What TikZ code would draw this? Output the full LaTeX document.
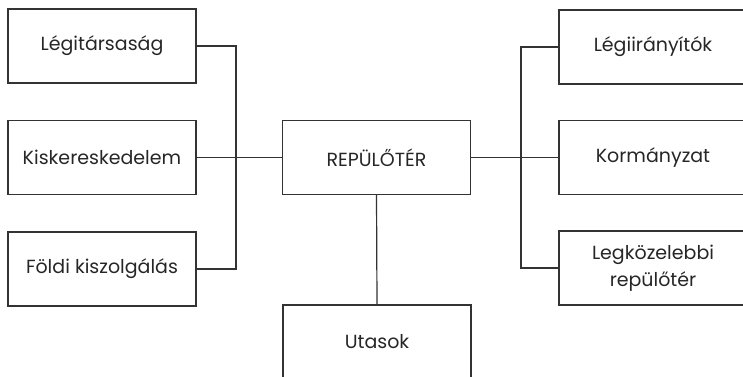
\documentclass[tikz,border=0pt]{standalone}
\usepackage{fontspec}
\setmainfont{Poppins}

\begin{document}
\begin{tikzpicture}[
x=1pt, y=-1pt,
entity/.style={rectangle, draw=black!80, line width=1.2pt, minimum width=188pt, minimum height=74pt, align=center, font=\fontsize{19}{27}\selectfont, text=black!85},
link/.style={draw=black!80, line width=1.2pt},
]
\useasboundingbox (0,0) rectangle (743,376);
% left column
\node[entity] (airline) at (102,46) {Légitársaság};
\node[entity] (retail) at (102,157.5) {Kiskereskedelem};
\node[entity] (ground) at (102,269) {Földi kiszolgálás};
% centre
\node[entity] (airport) at (376.5,157.5) {REPÜLŐTÉR};
\node[entity] (pax) at (377,342) {Utasok};
% right column
\node[entity] (atc) at (653,47) {Légiirányítók};
\node[entity] (gov) at (653,157.5) {Kormányzat};
\node[entity] (nearby) at (653,268) {Legközelebbi\\repülőtér};
% buses
\coordinate (lbus) at (236,157.5);
\coordinate (rbus) at (521,157.5);
\draw[link] (airline.east) -| (lbus) |- (ground.east);
\draw[link] (retail.east) -- (airport.west);
\draw[link] (atc.west) -| (rbus) |- (nearby.west);
\draw[link] (airport.east) -- (gov.west);
\draw[link] (airport.south) -- (pax.north);
\end{tikzpicture}
\end{document}
